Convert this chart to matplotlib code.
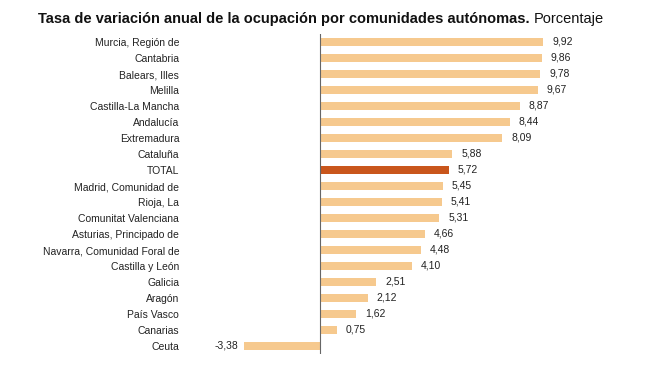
import matplotlib.pyplot as plt

plt.rcParams['font.family'] = ['Liberation Sans', 'DejaVu Sans']

regiones = ["Murcia, Región de", "Cantabria", "Balears, Illes", "Melilla",
            "Castilla-La Mancha", "Andalucía", "Extremadura", "Cataluña",
            "TOTAL", "Madrid, Comunidad de", "Rioja, La", "Comunitat Valenciana",
            "Asturias, Principado de", "Navarra, Comunidad Foral de",
            "Castilla y León", "Galicia", "Aragón", "País Vasco", "Canarias", "Ceuta"]
valores = [9.92, 9.86, 9.78, 9.67, 8.87, 8.44, 8.09, 5.88, 5.72, 5.45, 5.41,
           5.31, 4.66, 4.48, 4.10, 2.51, 2.12, 1.62, 0.75, -3.38]

c_claro = '#F6C98E'
c_total = '#C9561C'
colores = [c_total if r == "TOTAL" else c_claro for r in regiones]

W, H = 671, 376
fig = plt.figure(figsize=(W / 100, H / 100), dpi=100)
# axes in pixel coords: x 200..640, y 34..354 (from top), 16 px per row
ax = fig.add_axes([200 / W, 1 - 354 / H, 440 / W, 320 / H])

pos = list(range(len(regiones)))
ax.barh(pos, valores, height=0.45, color=colores)
escala = 22.5  # px per unit
ax.set_xlim(-(320 - 200) / escala, (640 - 320) / escala)
ax.set_ylim(19.5, -0.5)
ax.axvline(0, color='#666666', lw=0.8)

for p, v in zip(pos, valores):
    txt = ('%.2f' % v).replace('.', ',')
    if v >= 0:
        ax.text(v + 0.4, p, txt, va='center', ha='left', fontsize=7.5, color='#222222')
    else:
        ax.text(v - 0.27, p, txt, va='center', ha='right', fontsize=7.5, color='#222222')

ax.set_yticks(pos)
ax.set_yticklabels(regiones, fontsize=7.5, color='#222222')
ax.tick_params(axis='y', length=0, pad=15)
ax.set_xticks([])
for s in ax.spines.values():
    s.set_visible(False)

t1 = fig.text(38 / W, 1 - 19 / H, "Tasa de variación anual de la ocupación por comunidades autónomas.",
              fontsize=10.5, fontweight='bold', va='center', ha='left', color='#111111')
fig.canvas.draw()
bb = t1.get_window_extent()
fig.text((bb.x1 + 4) / W, 1 - 19 / H, "Porcentaje", fontsize=10.5, va='center', ha='left',
         color='#111111')

fig.savefig('out.png', dpi=100)
